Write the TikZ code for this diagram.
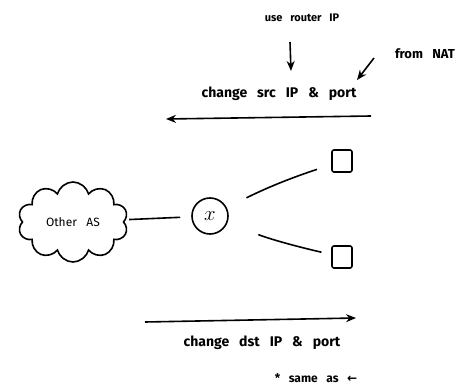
\documentclass[tikz,border=0pt]{standalone}
\usepackage{fontspec}
\setmainfont{Fira Sans}[WordSpace=3]
\newfontfamily\symfont{DejaVu Sans}
\usetikzlibrary{arrows.meta,positioning,shapes.symbols}

\begin{document}
\begin{tikzpicture}[x=1pt,y=-1pt,>={Stealth[length=10pt,width=8pt]},line width=1.6pt,font=\fontsize{14}{16}\selectfont\bfseries]
\tikzstyle{lbl}=[inner sep=1pt]
\tikzstyle{dev}=[draw,minimum width=20pt,minimum height=22pt,rounded corners=2pt,inner sep=0pt]
\useasboundingbox (0,0) rectangle (475,388);
% outgoing: source rewritten
\node[lbl,font=\fontsize{11}{13}\selectfont\bfseries] (ur) at (302,18) {use router IP};
\node[lbl,font=\fontsize{13}{15}\selectfont\bfseries] (nat) at (425,54) {from NAT};
\node[lbl] (src) at (279,94) {change src IP \& port};
\coordinate (u1) at (290,42); \coordinate (u2) at (291,71);
\coordinate (n1) at (374,58); \coordinate (n2) at (357,80);
\coordinate (s1) at (371,116); \coordinate (s2) at (166,119);
\draw[->] (u1) -- (u2);
\draw[->] (n1) -- (n2);
\draw[->] (s1) -- (s2);
% network
\node[draw,cloud,cloud puffs=10,cloud ignores aspect,minimum width=110pt,minimum height=80pt,font=\fontsize{12}{14}\selectfont] (as) at (73,222) {Other AS};
\node[draw,circle,minimum size=36pt,inner sep=0pt,font=\fontsize{20}{22}\selectfont] (rt) at (210,216) {$x$};
\node[dev] (d1) at (342,161) {};
\node[dev] (d2) at (342,257) {};
\draw[shorten <=3pt,shorten >=11pt] (as) -- (rt);
\draw[shorten <=22pt,shorten >=15pt] (rt) to[bend left=4] (d1);
\draw[shorten <=33pt,shorten >=10pt] (rt) to[bend right=4] (d2);
% incoming: destination rewritten
\coordinate (t1) at (145,322); \coordinate (t2) at (356,318);
\draw[->] (t1) -- (t2);
\node[lbl] (dst) at (262,343) {change dst IP \& port};
\node[lbl,font=\fontsize{12}{14}\selectfont\bfseries] (note) at (316,378) {* same as {\symfont\bfseries ←}};
\end{tikzpicture}
\end{document}
